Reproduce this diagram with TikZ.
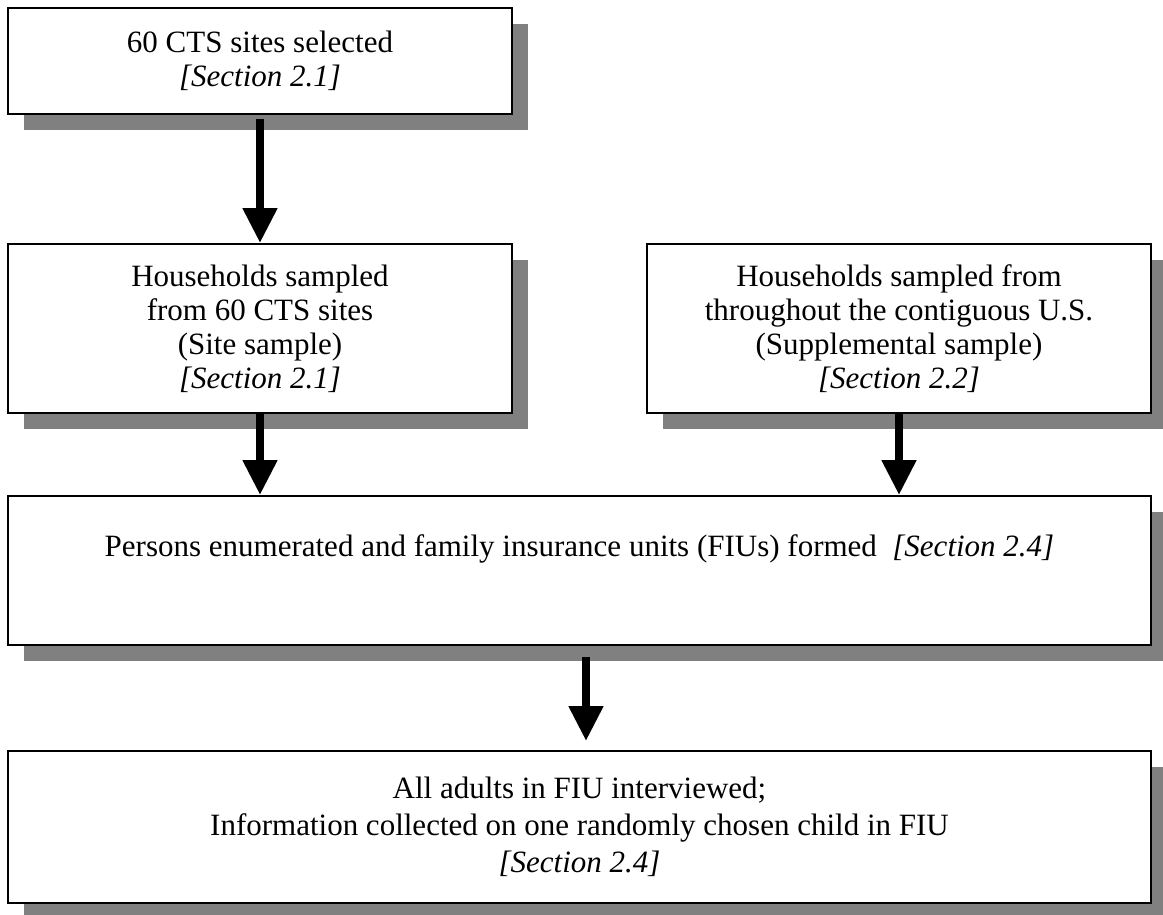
\documentclass[tikz,border=0pt]{standalone}
\usepackage{fontspec}
\setmainfont{Liberation Serif}
\usetikzlibrary{arrows.meta,shadows}
\definecolor{shadowgray}{RGB}{128,128,128}
\begin{document}
\begin{tikzpicture}[x=1pt, y=-1pt, line width=2pt,
                    box node/.style={rectangle,draw,fill=white,align=center,
                      font=\fontsize{31}{34}\selectfont,
                      drop shadow={shadow xshift=16pt,shadow yshift=-16pt,fill=shadowgray,opacity=1}},
                    flow arrow/.style={draw,line width=8pt,-{Triangle[width=33pt,length=35pt]}}]
  \useasboundingbox (0,0) rectangle (1163,914);

  \node[box node, minimum width=504pt, minimum height=106pt] (sites) at (260, 61)
    {60 CTS sites selected\\ \textit{[Section 2.1]}};
  \node[box node, minimum width=504pt, minimum height=169pt] (site) at (260, 328.5)
    {Households sampled\\ from 60 CTS sites\\ (Site sample)\\ \textit{[Section 2.1]}};
  \node[box node, minimum width=504pt, minimum height=169pt] (supp) at (899, 328.5)
    {Households sampled from\\ throughout the contiguous U.S.\\ (Supplemental sample)\\ \textit{[Section 2.2]}};
  \node[box node, minimum width=1143pt, minimum height=149pt, text height=23pt, text depth=52pt] (fiu) at (579.5, 570.5)
    {Persons enumerated and family insurance units (FIUs) formed\ \ \textit{[Section 2.4]}};
  \node[box node, minimum width=1143pt, minimum height=152pt, font=\fontsize{31}{37}\selectfont] (adults) at (579.5, 827)
    {All adults in FIU interviewed;\\ Information collected on one randomly chosen child in FIU\\ \textit{[Section 2.4]}};

  \path[every edge/.style={flow arrow}]
  (sites.south) edge[shorten <=4pt] (site.north)
  (site.south) edge (site.south |- fiu.north)
  (supp.south) edge (supp.south |- fiu.north)
  ([xshift=6.5pt]fiu.south) edge[shorten <=11pt, shorten >=9pt] ([xshift=6.5pt]adults.north);

\end{tikzpicture}
\end{document}
